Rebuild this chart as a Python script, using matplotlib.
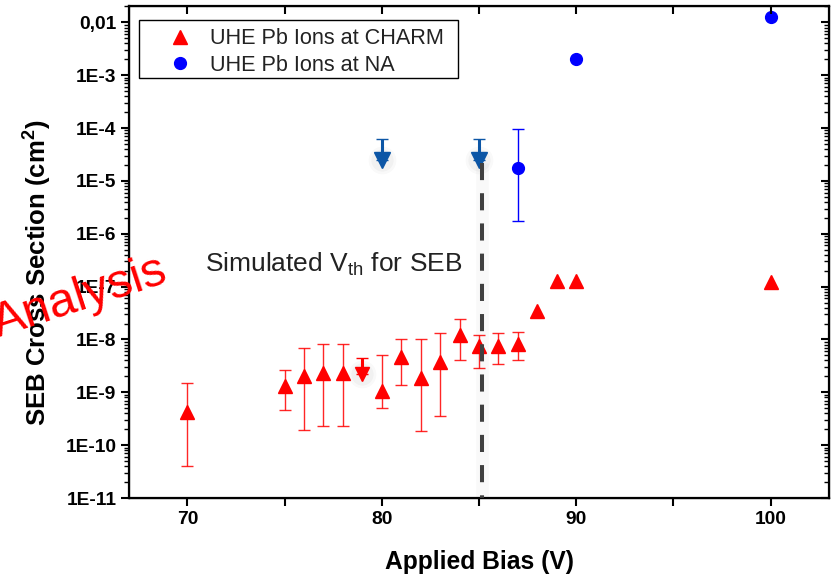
#!/usr/bin/env python3
"""
SEB cross section vs applied bias (log scale), Origin-style plot.
"""
import numpy as np
import matplotlib
matplotlib.use('Agg')
import matplotlib.pyplot as plt
from matplotlib.lines import Line2D
from matplotlib.patches import Rectangle
from matplotlib.ticker import LogLocator, MultipleLocator, FuncFormatter, NullFormatter

# CHARM data (red triangles)
charm_bias = [70, 75, 76, 77, 78, 80, 81, 82, 83, 84, 85, 86, 87, 88, 89, 90, 100]
charm_xs = [4.3e-10, 1.3e-9, 2.0e-9, 2.3e-9, 2.3e-9, 1.07e-9, 4.6e-9, 1.9e-9, 3.8e-9,
            1.2e-8, 7.6e-9, 7.6e-9, 8.3e-9, 3.4e-8, 1.28e-7, 1.3e-7, 1.2e-7]
charm_hi = [1.5e-9, 2.7e-9, 6.9e-9, 8.1e-9, 8.1e-9, 5.0e-9, 1.0e-8, 1.02e-8, 1.3e-8,
            2.4e-8, 1.23e-8, 1.3e-8, 1.4e-8, np.nan, np.nan, np.nan, np.nan]
charm_lo = [4.1e-11, 4.6e-10, 1.9e-10, 2.3e-10, 2.3e-10, 5.0e-10, 1.35e-9, 1.85e-10, 3.6e-10,
            4.1e-9, 2.9e-9, 3.5e-9, 4.1e-9, np.nan, np.nan, np.nan, np.nan]

# CHARM upper limit
charm_lim_bias = [79]
charm_lim_xs = [2.2e-9]
charm_lim_top = [4.4e-9]

# NA data (blue circles)
na_bias = [87, 90, 100]
na_xs = [1.75e-5, 2.0e-3, 1.24e-2]
na_hi = [9.8e-5, np.nan, np.nan]
na_lo = [1.75e-6, np.nan, np.nan]

# NA upper limits
na_lim_bias = [80, 85]
na_lim_xs = [2.45e-5, 2.45e-5]
na_lim_top = [6.3e-5, 6.3e-5]

# simulated threshold
vth_bias = 85.15
vth_top = 2.15e-5


def fmt_y(v, pos):
    if abs(v - 0.01) < 1e-9:
        return '0,01'
    return '1E{}'.format(int(round(np.log10(v))))


def fmt_x(v, pos):
    if int(round(v)) % 10 == 0:
        return '{}'.format(int(round(v)))
    return ''


def errbar(ax, x, y, lo, hi, color, **kw):
    x, y, lo, hi = map(np.asarray, (x, y, lo, hi))
    m = ~np.isnan(hi)
    ax.errorbar(x[m], y[m], yerr=[y[m] - lo[m], hi[m] - y[m]], fmt='none',
                ecolor=color, **kw)


def main():
    plt.rcParams['font.family'] = ['Liberation Sans', 'DejaVu Sans']
    plt.rcParams['mathtext.fontset'] = 'custom'
    plt.rcParams['mathtext.rm'] = 'Liberation Sans'
    plt.rcParams['mathtext.bf'] = 'Liberation Sans:bold'

    fig = plt.figure(figsize=(8.34, 5.77), dpi=100)
    ax = fig.add_axes([0.1547, 0.1369, 0.8393, 0.8527])

    red = '#ff0000'
    blue = '#0000ff'
    dblue = '#0c56a6'

    # error bars
    errbar(ax, charm_bias, charm_xs, charm_lo, charm_hi, red,
           elinewidth=1.0, capsize=4, capthick=1.0, alpha=0.85)
    errbar(ax, na_bias, na_xs, na_lo, na_hi, blue,
           elinewidth=1.0, capsize=4, capthick=1.0)

    ax.plot(charm_bias, charm_xs, ls='none', marker='^', ms=9.5, color=red, mec=red)
    ax.plot(na_bias, na_xs, ls='none', marker='o', ms=8.5, color=blue, mec=blue)

    # upper limits (with a soft halo like the original)
    for size, a in [(20, 0.025), (16, 0.03)]:
        ax.plot(charm_lim_bias, charm_lim_xs, ls='none', marker='o', ms=size,
                color='black', alpha=a, mew=0)
        ax.plot(na_lim_bias, na_lim_xs, ls='none', marker='o', ms=size,
                color='black', alpha=a, mew=0)

    y = np.array(charm_lim_xs)
    ax.errorbar(charm_lim_bias, y, yerr=[np.zeros_like(y), np.array(charm_lim_top) - y],
                fmt='none', ecolor=red, elinewidth=2.2, capsize=4, capthick=1.0)
    ax.plot(charm_lim_bias, charm_lim_xs, ls='none', marker='v', ms=10.5, color=red)

    y = np.array(na_lim_xs)
    ax.errorbar(na_lim_bias, y, yerr=[np.zeros_like(y), np.array(na_lim_top) - y],
                fmt='none', ecolor=dblue, elinewidth=2.2, capsize=4, capthick=1.0)
    ax.plot(na_lim_bias, na_lim_xs, ls='none', marker='v', ms=11, color=dblue)

    # dashed threshold line
    ylim = (1e-11, 10 ** -1.69)
    ax.plot([vth_bias, vth_bias], [vth_top, ylim[0]], color='black', lw=9,
            alpha=0.022, zorder=4, solid_capstyle='butt')
    ax.plot([vth_bias, vth_bias], [vth_top, ylim[0]], color='#404040', lw=2.9,
            dashes=(4.25, 3.25), zorder=5, clip_on=False)

    ax.text(0.1086, 0.461, r'Simulated V$_{\mathrm{th}}$ for SEB', transform=ax.transAxes,
            fontsize=19, color='#222222', va='baseline', ha='left')

    ax.set_yscale('log')
    ax.set_xlim(67, 103)
    ax.set_ylim(*ylim)

    ax.xaxis.set_major_locator(MultipleLocator(5))
    ax.xaxis.set_major_formatter(FuncFormatter(fmt_x))
    ax.yaxis.set_major_locator(LogLocator(base=10, numticks=20))
    ax.yaxis.set_minor_locator(LogLocator(base=10, subs=np.arange(2, 10), numticks=20))
    ax.yaxis.set_major_formatter(FuncFormatter(fmt_y))
    ax.yaxis.set_minor_formatter(NullFormatter())

    ax.tick_params(which='major', direction='out', length=6, width=1.5,
                   labelsize=13.8, pad=3)
    ax.tick_params(which='minor', direction='out', length=3.5, width=1.0)
    for lab in ax.get_xticklabels() + ax.get_yticklabels():
        lab.set_fontweight('bold')

    for s in ax.spines.values():
        s.set_linewidth(1.6)

    # inward ticks on top and right
    axt = ax.twiny()
    axt.set_xlim(ax.get_xlim())
    axt.xaxis.set_major_locator(MultipleLocator(5))
    axt.tick_params(axis='x', direction='in', length=6, width=1.5, labeltop=False)
    axr = ax.twinx()
    axr.set_yscale('log')
    axr.set_ylim(ax.get_ylim())
    axr.yaxis.set_major_locator(LogLocator(base=10, numticks=20))
    axr.yaxis.set_minor_locator(LogLocator(base=10, subs=np.arange(2, 10), numticks=20))
    axr.yaxis.set_minor_formatter(NullFormatter())
    axr.tick_params(axis='y', which='major', direction='in', length=6, width=1.5, labelright=False)
    axr.tick_params(axis='y', which='minor', direction='in', length=3.5, width=1.0)

    ax.set_xlabel('Applied Bias (V)', fontsize=17.7, fontweight='bold', labelpad=16)
    ax.set_ylabel(r'SEB Cross Section (cm$^{\mathbf{2}}$)', fontsize=18.5, fontweight='bold')
    ax.yaxis.set_label_coords(-0.108, 0.457)

    # legend: frame drawn separately so the padding can match the original
    ax.add_patch(Rectangle((0.0143, 0.8537), 0.4557, 0.1179, transform=ax.transAxes,
                           facecolor='white', edgecolor='black', lw=1.0, zorder=6))
    handles = [
        Line2D([], [], ls='none', marker='^', ms=10, color=red),
        Line2D([], [], ls='none', marker='o', ms=8.5, color=blue),
    ]
    leg = ax.legend(handles, ['UHE Pb Ions at CHARM', 'UHE Pb Ions at NA'],
                    loc='upper left', bbox_to_anchor=(0.058, 0.955), borderaxespad=0,
                    fontsize=15.6, handlelength=1.0, handletextpad=0.85, borderpad=0,
                    labelspacing=0.25, frameon=False)
    leg.set_zorder(7)
    for t in leg.get_texts():
        t.set_color('#222222')

    fig.text(80 / 834, 1 - 298 / 577, 'Analysis', rotation=18, color=red,
             fontsize=35, ha='center', va='center', zorder=10)

    fig.savefig('out.png', dpi=100)


if __name__ == "__main__":
    main()
